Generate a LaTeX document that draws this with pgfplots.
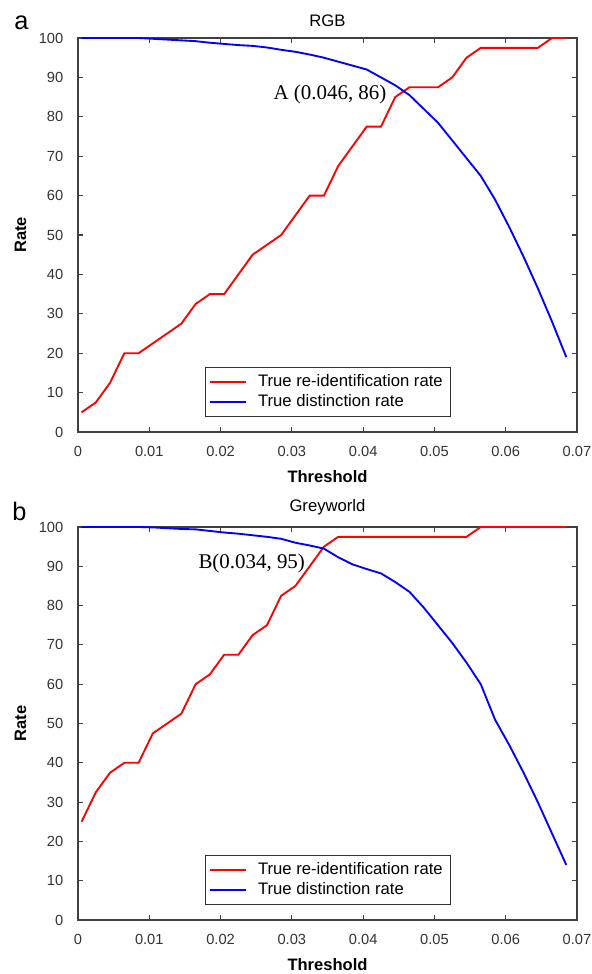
\documentclass[border=0pt]{standalone}
\usepackage{pgfplots}
\pgfplotsset{compat=1.18}
\usepackage{fontspec}
\setmainfont{Liberation Sans}
\newfontfamily\annfont{Liberation Serif}

\pgfplotstableread{
x y
0.0005 5
0.0025 7.5
0.0045 12.5
0.0065 20
0.0085 20
0.0105 22.5
0.0125 25
0.0145 27.5
0.0165 32.5
0.0185 35
0.0205 35
0.0225 40
0.0245 45
0.0265 47.5
0.0285 50
0.0305 55
0.0325 60
0.0345 60
0.0365 67.5
0.0385 72.5
0.0405 77.5
0.0425 77.5
0.0445 85
0.0465 87.5
0.0485 87.5
0.0505 87.5
0.0525 90
0.0545 95
0.0565 97.5
0.0585 97.5
0.0605 97.5
0.0625 97.5
0.0645 97.5
0.0665 100
0.0685 100
}\rgbreid

\pgfplotstableread{
x y
0.0005 100
0.0025 100
0.0045 100
0.0065 100
0.0085 100
0.0105 99.8
0.0125 99.6
0.0145 99.4
0.0165 99.2
0.0185 98.8
0.0205 98.5
0.0225 98.2
0.0245 98
0.0265 97.6
0.0285 97
0.0305 96.5
0.0325 95.8
0.0345 95
0.0365 94
0.0385 93
0.0405 92
0.0425 90
0.0445 88
0.0465 85.5
0.0485 82
0.0505 78.5
0.0525 74
0.0545 69.5
0.0565 65
0.0585 59
0.0605 52
0.0625 44.5
0.0645 36.5
0.0665 28
0.0685 19
}\rgbdist

\pgfplotstableread{
x y
0.0005 25
0.0025 32.5
0.0045 37.5
0.0065 40
0.0085 40
0.0105 47.5
0.0125 50
0.0145 52.5
0.0165 60
0.0185 62.5
0.0205 67.5
0.0225 67.5
0.0245 72.5
0.0265 75
0.0285 82.5
0.0305 85
0.0325 90
0.0345 95
0.0365 97.5
0.0385 97.5
0.0405 97.5
0.0425 97.5
0.0445 97.5
0.0465 97.5
0.0485 97.5
0.0505 97.5
0.0525 97.5
0.0545 97.5
0.0565 100
0.0585 100
0.0605 100
0.0625 100
0.0645 100
0.0665 100
0.0685 100
}\greyreid

\pgfplotstableread{
x y
0.0005 100
0.0025 100
0.0045 100
0.0065 100
0.0085 100
0.0105 99.9
0.0125 99.7
0.0145 99.5
0.0165 99.4
0.0185 99
0.0205 98.6
0.0225 98.3
0.0245 97.9
0.0265 97.5
0.0285 97
0.0305 96
0.0325 95.3
0.0345 94.5
0.0365 92.3
0.0385 90.5
0.0405 89.3
0.0425 88.2
0.0445 86
0.0465 83.5
0.0485 79.5
0.0505 75
0.0525 70.5
0.0545 65.5
0.0565 60
0.0585 51
0.0605 44.5
0.0625 37.5
0.0645 30
0.0665 22
0.0685 14
}\greydist

\pgfplotsset{
  myaxis/.style={
    scale only axis,
    width=374.25pt,
    xmin=0, xmax=0.07, ymin=0, ymax=100,
    scaled x ticks=false,
    xtick={0,0.01,0.02,0.03,0.04,0.05,0.06,0.07},
    xticklabels={0,0.01,0.02,0.03,0.04,0.05,0.06,0.07},
    ytick={0,10,20,30,40,50,60,70,80,90,100},
    tick align=inside,
    major tick length=4pt,
    axis line style={black!75, line width=0.9pt},
    every tick/.style={black!75, line width=0.8pt},
    tick label style={font=\fontsize{11}{13}\selectfont, text=black!80},
    /pgf/number format/assume math mode=true,
    xticklabel style={anchor=center, yshift=-14.8pt},
    yticklabel style={anchor=east, xshift=-7.5pt},
    xlabel={Threshold},
    ylabel={Rate},
    every axis x label/.style={at={([yshift=-33.4pt]axis description cs:0.5,0)}, anchor=center, font=\fontsize{12.4}{14}\selectfont\bfseries},
    every axis y label/.style={at={([xshift=-43.1pt]axis description cs:0,0.5)}, rotate=90, anchor=center, font=\fontsize{12.4}{14}\selectfont\bfseries},
    clip=false,
    legend cell align=left,
    legend image code/.code={\draw[#1, line width=1.5pt] (0pt,0pt) -- (27pt,0pt);},
    legend style={
      at={(axis description cs:0.2545,0.038)}, anchor=south west,
      draw=black!80, line width=0.6pt,
      font=\fontsize{12.5}{14}\selectfont,
      inner xsep=3pt, inner ysep=2.9pt,
      row sep=0pt,
      /tikz/every odd column/.append style={column sep=5pt},
      nodes={inner xsep=3pt, inner ysep=2pt, text height=9pt, text depth=2.5pt},
    },
  }
}

\begin{document}
\begin{tikzpicture}
\path[use as bounding box] (0,0) rectangle (444pt,-730.5pt);

\node[anchor=base west, inner sep=0pt, font=\fontsize{19}{22}\selectfont] at (10.5pt,-22.5pt) {a};
\node[anchor=base west, inner sep=0pt, font=\fontsize{19}{22}\selectfont] at (9pt,-390pt) {b};

\begin{axis}[myaxis,
  at={(58.5pt,-324pt)}, anchor=south west,
  height=295.5pt,
  title={RGB},
  title style={at={(0.5,1)}, anchor=center, yshift=6.75pt, font=\fontsize{12.5}{14}\selectfont},
]
\addplot[red, line width=1.4pt] table[x=x,y=y] {\rgbreid};
\addlegendentry{True re-identification rate}
\addplot[blue, line width=1.4pt] table[x=x,y=y] {\rgbdist};
\addlegendentry{True distinction rate}
\node[anchor=base west, inner sep=0pt, font=\annfont\fontsize{15.7}{18}\selectfont] at (axis cs:0.0274,84.3) {A (0.046, 86)};
\end{axis}

\begin{axis}[myaxis,
  at={(58.5pt,-690pt)}, anchor=south west,
  height=294.75pt,
  title={Greyworld},
  title style={at={(0.5,1)}, anchor=center, yshift=9pt, font=\fontsize{12.5}{14}\selectfont},
]
\addplot[red, line width=1.4pt] table[x=x,y=y] {\greyreid};
\addlegendentry{True re-identification rate}
\addplot[blue, line width=1.4pt] table[x=x,y=y] {\greydist};
\addlegendentry{True distinction rate}
\node[anchor=base west, inner sep=0pt, font=\annfont\fontsize{15.7}{18}\selectfont] at (axis cs:0.01687,89.5) {B(0.034, 95)};
\end{axis}
\end{tikzpicture}
\end{document}
